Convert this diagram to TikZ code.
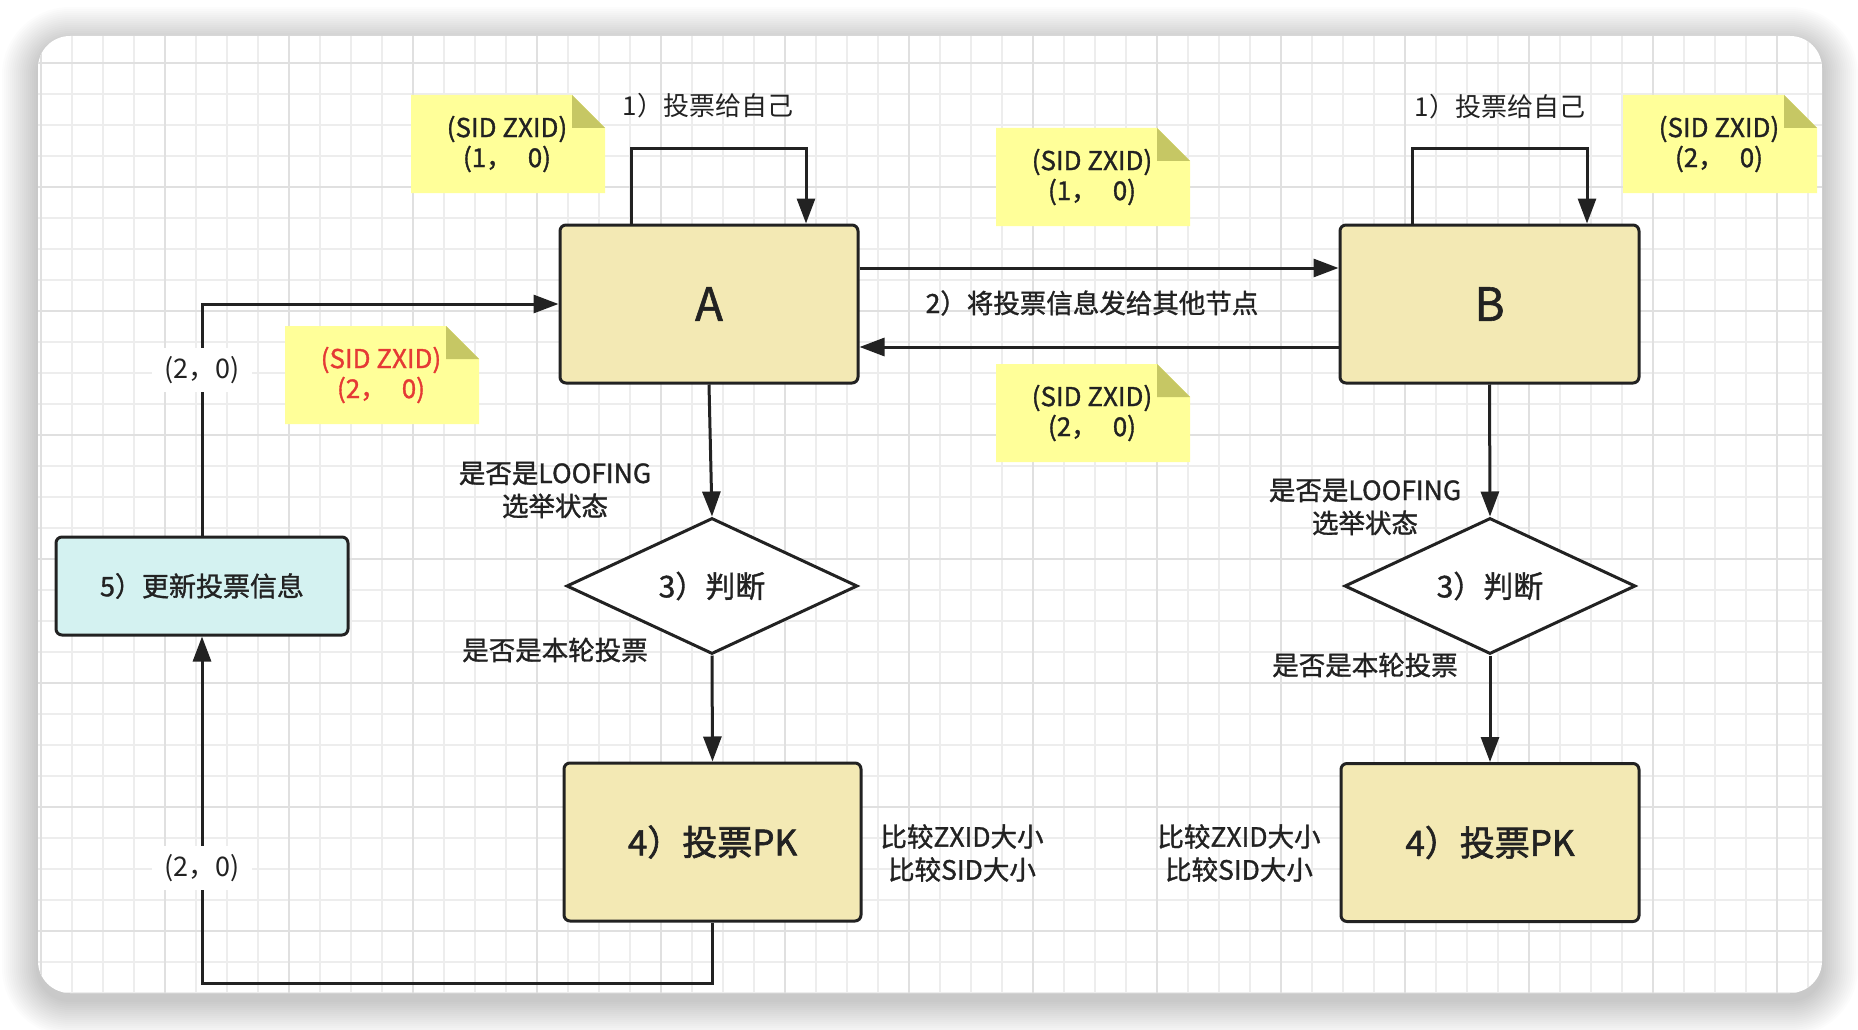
\documentclass[tikz,border=0pt]{standalone}
\usepackage{fontspec}
\setmainfont{Noto Sans CJK SC}
\newfontfamily\medfont{Noto Sans CJK SC}[FakeBold=1.2]
\newfontfamily\heavyfont{Noto Sans CJK SC}[FakeBold=1.8]
\usetikzlibrary{arrows.meta,shapes.geometric,calc}
\definecolor{ink}{HTML}{222222}
\definecolor{boxfill}{HTML}{F3E9B4}
\definecolor{cyanfill}{HTML}{D4F2F1}
\definecolor{notefill}{HTML}{FFFF99}
\definecolor{notefold}{HTML}{C6C764}
\definecolor{redtxt}{HTML}{E53935}
\definecolor{gridminor}{HTML}{EDEDED}
\definecolor{gridmajor}{HTML}{E0E0E0}
\newcommand\stickynote[5]{%
  \fill[notefill] (#2,#3) -- ++(161,0) -- ++(33,33) -- ++(0,65) -- ++(-194,0) -- cycle;
  \fill[notefold] (#2+161,#3) -- ++(0,33) -- ++(33,0) -- cycle;
  \node[notetext,#5] (#1) at (#2+96,#3+49) {#4};}
\begin{document}
\begin{tikzpicture}[x=1pt,y=-1pt,
  lbl/.style={font=\medfont\fontsize{26.5}{33}\selectfont, text=ink, align=center, inner sep=0pt},
  thinlbl/.style={font=\fontsize{26}{33}\selectfont, text=ink, align=center, inner sep=0pt},
  notetext/.style={font=\medfont\fontsize{26}{30}\selectfont, text=ink, align=center, inner sep=0pt},
  box/.style={draw=ink, line width=3pt, fill=boxfill, rounded corners=6pt, inner sep=0pt, text=ink},
  decide/.style={diamond, draw=ink, line width=3pt, fill=white, inner sep=0pt, aspect=2.14,
     minimum width=291pt, minimum height=136pt, text=ink, font=\medfont\fontsize{30}{30}\selectfont},
  arr/.style={draw=ink, line width=3pt, -{Triangle[length=25pt, width=18pt]}},
  tag/.style={fill=white, inner xsep=12pt, inner ysep=8pt, text=ink, font=\fontsize{27}{27}\selectfont},
]
\useasboundingbox (0,0) rectangle (1858,1030);
\fill[white] (0,0) rectangle (1858,1030);
% card shadow
\foreach \i in {1,...,18}
  \fill[black, opacity=0.012, rounded corners={(32+2*\i)*1pt}]
    (38-2*\i, 36-2*\i+7) rectangle (1822+2*\i, 993+2*\i+7);
% card
\fill[white, rounded corners=32pt] (38,36) rectangle (1822,993);
\begin{scope}
  \clip[rounded corners=32pt] (38,36) rectangle (1822,993);
  \foreach \x in {10,41,...,1840} \draw[gridminor, line width=1.2pt] (\x,36) -- (\x,993);
  \foreach \y in {1,32,...,1000} \draw[gridminor, line width=1.2pt] (38,\y) -- (1822,\y);
  \foreach \x in {41,165,...,1840} \draw[gridmajor, line width=1.5pt] (\x,36) -- (\x,993);
  \foreach \y in {63,187,...,1000} \draw[gridmajor, line width=1.5pt] (38,\y) -- (1822,\y);
\end{scope}

% notes
\stickynote{nA}{411}{95}{(SID ZXID)\\(1，\hspace{0.6em}0)}{}
\stickynote{nB}{1623}{95}{(SID ZXID)\\(2，\hspace{0.6em}0)}{}
\stickynote{nM1}{996}{128}{(SID ZXID)\\(1，\hspace{0.6em}0)}{}
\stickynote{nM2}{996}{364}{(SID ZXID)\\(2，\hspace{0.6em}0)}{}
\stickynote{nR}{285}{326}{(SID ZXID)\\(2，\hspace{0.6em}0)}{text=redtxt}

% main nodes
\node[box, minimum width=298pt, minimum height=158pt, font=\medfont\fontsize{46}{46}\selectfont] (A) at (709,304) {A};
\node[box, minimum width=299pt, minimum height=158pt, font=\medfont\fontsize{46}{46}\selectfont] (B) at (1489.5,304) {B};
\node[decide] (dA) at (712,586) {3）判断};
\node[decide] (dB) at (1490,586) {3）判断};
\node[box, minimum width=297pt, minimum height=158pt, font=\heavyfont\fontsize{35}{35}\selectfont] (PA) at (712.5,842) {4）投票PK};
\node[box, minimum width=298pt, minimum height=158pt, font=\heavyfont\fontsize{35}{35}\selectfont] (PB) at (1490,842.5) {4）投票PK};
\node[box, fill=cyanfill, minimum width=292pt, minimum height=98pt, font=\medfont\fontsize{27}{27}\selectfont] (U) at (202,586) {5）更新投票信息};

% connectors
\draw[arr] ([xshift=-78pt]A.north) |- ([xshift=97pt,yshift=75pt]A.north) -- ([xshift=97pt]A.north);
\draw[arr] ([xshift=-77.5pt]B.north) |- ([xshift=97.5pt,yshift=75pt]B.north) -- ([xshift=97.5pt]B.north);
\draw[arr] ([yshift=36pt]A.east) -- ([yshift=36pt]B.west);
\draw[arr] ([yshift=-43pt]B.west) -- ([yshift=-43pt]A.east);
\draw[arr] (A.south) -- (dA.north);
\draw[arr] (dA.south) -- (PA.north);
\draw[arr] (B.south) -- (dB.north);
\draw[arr] (dB.south) -- (PB.north);
\draw[arr] (PA.south) -- ++(0,61) coordinate (corner) -| (U.south);
\draw[arr] (U.north) |- (A.west);

% labels
\node[tag] (t1) at (202,370) {(2，0)};
\node[tag] (t2) at (202,868) {(2，0)};
\node[thinlbl] (l1a) at (708,106) {1）投票给自己};
\node[thinlbl] (l1b) at (1500,107) {1）投票给自己};
\node[lbl] (l2) at (1092,303) {2）将投票信息发给其他节点};
\node[lbl] (lsA) at (555,490) {是否是LOOFING\\选举状态};
\node[lbl] (lsB) at (1365,507) {是否是LOOFING\\选举状态};
\node[lbl] (lrA) at (555,650) {是否是本轮投票};
\node[lbl] (lrB) at (1365,665) {是否是本轮投票};
\node[lbl] (lcA) at (962,853) {比较ZXID大小\\比较SID大小};
\node[lbl] (lcB) at (1239,853) {比较ZXID大小\\比较SID大小};
\end{tikzpicture}
\end{document}
